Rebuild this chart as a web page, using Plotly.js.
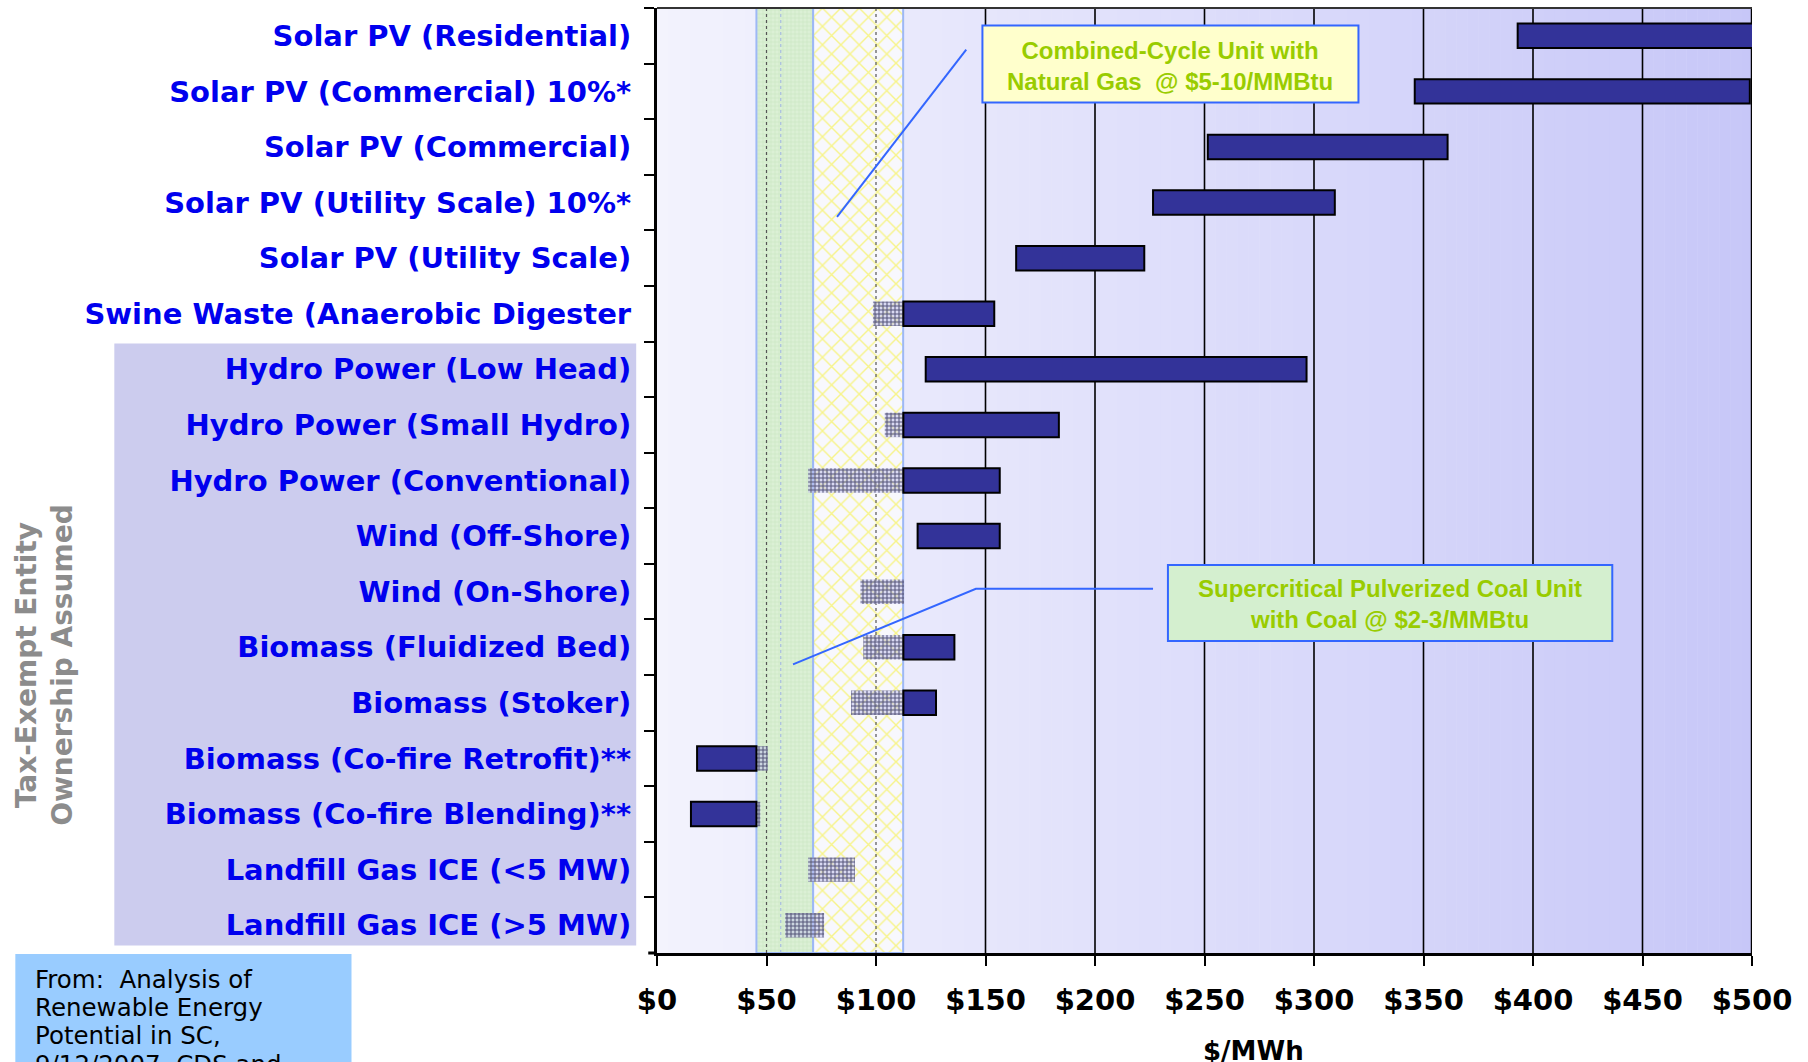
<!DOCTYPE html>
<html><head><meta charset="utf-8">
<script src="https://cdn.plot.ly/plotly-3.0.1.min.js"></script>
<style>html,body{margin:0;padding:0;background:#fff;}#chart{width:1808px;height:1062px;}</style>
</head><body><div id="chart"></div>
<script>
// ---- data (top to bottom) ----
const categories = [
  "Solar PV (Residential)", "Solar PV (Commercial) 10%*", "Solar PV (Commercial)",
  "Solar PV (Utility Scale) 10%*", "Solar PV (Utility Scale)", "Swine Waste (Anaerobic Digester",
  "Hydro Power (Low Head)", "Hydro Power (Small Hydro)", "Hydro Power (Conventional)",
  "Wind (Off-Shore)", "Wind (On-Shore)", "Biomass (Fluidized Bed)", "Biomass (Stoker)",
  "Biomass (Co-fire Retrofit)**", "Biomass (Co-fire Blending)**",
  "Landfill Gas ICE (<5 MW)", "Landfill Gas ICE (>5 MW)"
];
// cost range ($/MWh), standard ownership
const costLow  = [393, 346, 251.5, 226.5, 164, 112.5, 122.7, 112.5, 112.5, 119, null, 112.5, 112.5, 18.3, 15.5, null, null];
const costHigh = [503, 499, 361, 309.5, 222.5, 154, 296.6, 183.5, 156.5, 156.5, null, 135.8, 127.4, 45.4, 45.4, null, null];
// additional range with tax-exempt entity ownership
const exemptLow  = [null, null, null, null, null, 98.6, null, 104, 69, null, 92.9, 94.2, 88.6, 45.4, 45.4, 69, 58.5];
const exemptHigh = [null, null, null, null, null, 112.5, null, 112.5, 112.5, null, 112.8, 112.5, 112.5, 50.6, 47.2, 90.4, 76.3];
// reference generation cost bands ($/MWh)
const coalBand = [45.4, 71.3];
const gasBand  = [71.3, 112.4];
const xTickValues = [0, 50, 100, 150, 200, 250, 300, 350, 400, 450, 500];
const xTickLabels = ["$0", "$50", "$100", "$150", "$200", "$250", "$300", "$350", "$400", "$450", "$500"];
const sourceLines = ["From:  Analysis of", "Renewable Energy", "Potential in SC,", "9/12/2007, CDS and"];

const span = (lo, hi) => lo.map((v, i) => (v === null || hi[i] === null) ? null : hi[i] - v);

// ---- traces ----
const bandTrace = (b, fill, pattern, name) => ({
  type: 'scatter', mode: 'lines', xaxis: 'x', yaxis: 'y', name: name, showlegend: false, hoverinfo: 'skip',
  x: [b[0], b[1], b[1], b[0], b[0]], y: [0, 0, 1, 1, 0],
  fill: 'toself', fillcolor: fill, fillpattern: pattern,
  line: {color: '#9db8f5', width: 2}
});
const vline = (v, color) => ({
  type: 'scatter', mode: 'lines', xaxis: 'x', yaxis: 'y', showlegend: false, hoverinfo: 'skip',
  x: [v, v], y: [0, 1], line: {color: color, width: 1.2, dash: 'dot'}
});

const traces = [
  bandTrace(coalBand, '#d7eed1', {shape: '+', fgcolor: '#c5e3be', bgcolor: '#dbf0d5', size: 4, solidity: 0.25}, 'Coal'),
  bandTrace(gasBand, '#f8f8fc', {shape: 'x', fgcolor: '#f7f489', bgcolor: '#f8f8fd', size: 13, solidity: 0.2}, 'Gas'),
  vline(50, '#555555'),
  vline(56.5, '#a8bde0'),
  vline(100, '#555555'),
  {
    type: 'bar', orientation: 'h', xaxis: 'x', yaxis: 'y2', showlegend: false,
    y: categories, base: exemptLow, x: span(exemptLow, exemptHigh), width: 0.44,
    marker: {color: 'rgba(0,0,0,0)', line: {width: 0},
      pattern: {shape: '+', fgcolor: '#55557a', bgcolor: 'rgba(190,190,232,0.55)', size: 4, solidity: 0.45}}
  },
  {
    type: 'bar', orientation: 'h', xaxis: 'x', yaxis: 'y2', showlegend: false,
    y: categories, base: costLow, x: span(costLow, costHigh), width: 0.44,
    marker: {color: '#333399', line: {color: '#000000', width: 2}}
  }
];

// ---- background shapes ----
const shapes = [];
for (let v = 0; v < 500; v += 5) {
  const t = (v + 2.5) / 500;
  const rg = Math.round(243 - 44 * t), b = Math.round(253 - 5 * t);
  shapes.push({type: 'rect', layer: 'below', xref: 'x', yref: 'paper', x0: v, x1: v + 5.2, y0: 0, y1: 1,
    fillcolor: `rgb(${rg},${rg},${b})`, line: {width: 0}});
}
// tax-exempt label panel
shapes.push({type: 'rect', layer: 'below', xref: 'paper', yref: 'paper', x0: -0.4956, x1: -0.019, y0: 0.0079, y1: 0.6449,
  fillcolor: '#ccccee', line: {width: 0}});
// source box
shapes.push({type: 'rect', layer: 'below', xref: 'paper', yref: 'paper', x0: -0.586, x1: -0.279, y0: -0.0011, y1: -0.13,
  fillcolor: '#99ccff', line: {width: 0}});
// solid gridlines
xTickValues.filter(v => v >= 150).forEach(v => shapes.push({type: 'line', layer: 'below', xref: 'x', yref: 'paper',
  x0: v, x1: v, y0: 0, y1: 1, line: {color: '#000000', width: v === 500 ? 2.5 : 1.6}}));
// top border and x-axis extension
shapes.push({type: 'line', layer: 'above', xref: 'paper', yref: 'paper', x0: 0, x1: 1, y0: 1, y1: 1, line: {color: '#333333', width: 2}});
shapes.push({type: 'line', layer: 'above', xref: 'paper', yref: 'paper', x0: -0.008, x1: 0, y0: 0, y1: 0, line: {color: '#000000', width: 3}});
// callout boxes and leader lines
shapes.push({type: 'line', layer: 'above', xref: 'x', yref: 'paper', x0: 141.2, y0: 0.956, x1: 82.2, y1: 0.779, line: {color: '#3366ff', width: 2}});
shapes.push({type: 'path', layer: 'above', xref: 'x', yref: 'paper', path: 'M226.5,0.3855 L145.6,0.3855 L62.1,0.3055', line: {color: '#3366ff', width: 2}});
shapes.push({type: 'rect', layer: 'above', xref: 'x', yref: 'paper', x0: 148.6, x1: 320.3, y0: 0.8999, y1: 0.9816,
  fillcolor: '#ffffcc', line: {color: '#3366ff', width: 2}});
shapes.push({type: 'rect', layer: 'above', xref: 'x', yref: 'paper', x0: 233.3, x1: 436.2, y0: 0.3302, y1: 0.4106,
  fillcolor: '#d4efcf', line: {color: '#3366ff', width: 2}});

// ---- annotations ----
const calloutFont = {family: 'Liberation Sans, Arial, sans-serif', size: 24, weight: 'bold', color: '#99cc00'};
const annotations = [
  {xref: 'x', yref: 'paper', x: 234.3, y: 0.9381, xanchor: 'center', yanchor: 'middle', showarrow: false, align: 'center', font: calloutFont,
    text: 'Combined-Cycle Unit with<br>Natural Gas \u00a0@ $5-10/MMBtu'},
  {xref: 'x', yref: 'paper', x: 334.7, y: 0.3688, xanchor: 'center', yanchor: 'middle', showarrow: false, align: 'center', font: calloutFont,
    text: 'Supercritical Pulverized Coal Unit<br>with Coal @ $2-3/MMBtu'},
  {xref: 'paper', yref: 'paper', x: -0.559, y: 0.3048, xanchor: 'center', yanchor: 'middle', showarrow: false, textangle: -90, align: 'center',
    font: {family: 'DejaVu Sans, Verdana, sans-serif', size: 28, weight: 'bold', color: '#8c8c8c'},
    text: 'Tax-Exempt Entity<br>Ownership Assumed'},
  {xref: 'paper', yref: 'paper', x: 0.5444, y: -0.0857, xanchor: 'center', yanchor: 'top', showarrow: false,
    font: {family: 'DejaVu Sans, Verdana, sans-serif', size: 26, weight: 'bold', color: '#000000'},
    text: '$/MWh'}
];
sourceLines.forEach((line, i) => annotations.push({
  xref: 'paper', yref: 'paper', x: -0.5696, xanchor: 'left', y: -0.0278 - i * 0.0300, yanchor: 'middle', showarrow: false,
  font: {family: 'DejaVu Sans, Verdana, sans-serif', size: 24.5, color: '#000000'}, text: line
}));

const layout = {
  width: 1808, height: 1062,
  margin: {l: 657, r: 56, t: 8, b: 109},
  paper_bgcolor: '#ffffff', plot_bgcolor: '#f2f2fd',
  barmode: 'overlay', showlegend: false,
  xaxis: {
    range: [0, 500], tickvals: xTickValues, ticktext: xTickLabels, showgrid: false, zeroline: false,
    showline: true, linecolor: '#000000', linewidth: 3, ticks: 'outside', ticklen: 10, tickwidth: 2, tickcolor: '#000000',
    ticklabelstandoff: 9,
    tickfont: {family: 'DejaVu Sans, Verdana, sans-serif', size: 29, weight: 'bold', color: '#000000'}
  },
  yaxis: {range: [0, 1], visible: false, fixedrange: true},
  yaxis2: {
    overlaying: 'y', side: 'left', type: 'category', categoryorder: 'array', categoryarray: categories,
    range: [16.5, -0.5], showgrid: false, zeroline: false,
    showline: true, linecolor: '#000000', linewidth: 3, ticks: 'outside', tickson: 'boundaries',
    ticklen: 10, tickwidth: 2, tickcolor: '#000000', ticklabelstandoff: 17,
    tickfont: {family: 'DejaVu Sans, Verdana, sans-serif', size: 29, weight: 'bold', color: '#0000ee'}
  },
  shapes: shapes,
  annotations: annotations
};

Plotly.newPlot('chart', traces, layout, {displayModeBar: false, staticPlot: true});
</script>
</body></html>
